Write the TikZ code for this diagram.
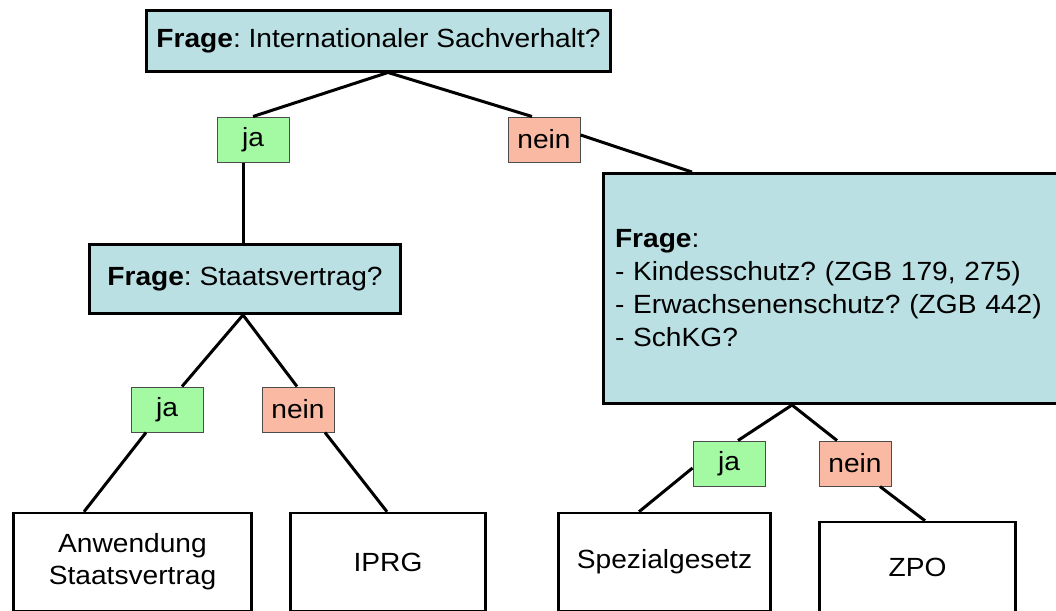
\documentclass[tikz,border=0pt]{standalone}
\usepackage{fontspec}
\setmainfont{Liberation Sans}[FakeStretch=1.07]
\frenchspacing
\definecolor{frageblau}{RGB}{186,224,228}
\definecolor{jagruen}{RGB}{163,250,163}
\definecolor{neinrot}{RGB}{250,185,162}
\begin{document}
\begin{tikzpicture}[
    x=1pt, y=-1pt,
    every node/.style={font=\fontsize{26.3}{33}\selectfont, inner sep=0pt},
    frage/.style={draw, fill=frageblau, line width=3pt},
    antwort/.style={draw, line width=2.5pt, align=center},
    jabox/.style={draw=black!70, fill=jagruen, line width=1pt, minimum width=72, minimum height=45},
    neinbox/.style={draw=black!70, fill=neinrot, line width=1pt, minimum width=72, minimum height=45},
    ast/.style={line width=3pt}
    ]
    \useasboundingbox (0,0) rectangle (1056,610);
    % Fragen
    \node[frage, minimum width=464, minimum height=60] (q1) at (378.5,41) {\textbf{Frage}: Internationaler Sachverhalt?};
    \node[frage, minimum width=311, minimum height=69] (q2) at (245,279) {\textbf{Frage}: Staatsvertrag?};
    \node[frage, minimum height=230, text width=432, inner xsep=12, align=left] (q3) at (831,288.5)
      {\textbf{Frage}:\\- Kindesschutz? (ZGB 179, 275)\\- Erwachsenenschutz? (ZGB 442)\\- SchKG?};
    % ja / nein
    \node[jabox] (ja1) at (253,139.5) {ja};
    \node[neinbox] (nein1) at (544,139.5) {nein};
    \node[jabox] (ja2) at (167,409.5) {ja};
    \node[neinbox] (nein2) at (298,409.5) {nein};
    \node[jabox] (ja3) at (729,463.5) {ja};
    \node[neinbox] (nein3) at (855,463.5) {nein};
    % Ergebnisse
    \node[antwort, minimum width=238, minimum height=98, font=\fontsize{26.3}{32}\selectfont] (b1) at (132.5,562) {Anwendung\\Staatsvertrag};
    \node[antwort, minimum width=195, minimum height=98] (b2) at (388,562) {IPRG};
    \node[antwort, minimum width=212, minimum height=98] (b3) at (664.5,562) {Spezialgesetz};
    \node[antwort, minimum width=196, minimum height=91] (b4) at (917.5,567.5) {ZPO};
    % Aeste
    \draw[ast] ([xshift=9.5pt]q1.south) -- (ja1.north);
    \draw[ast] ([xshift=9.5pt]q1.south) -- ([xshift=-12pt]nein1.north);
    \draw[ast] ([yshift=4.5pt]nein1.east) -- ([xshift=-139pt]q3.north);
    \draw[ast] ([xshift=-10pt]ja1.south) -- ([xshift=-2pt]q2.north);
    \draw[ast] ([xshift=-2pt]q2.south) -- ([xshift=15pt]ja2.north);
    \draw[ast] ([xshift=-2pt]q2.south) -- ([xshift=-1pt]nein2.north);
    \draw[ast] ([xshift=-21pt]ja2.south) -- ([xshift=-48.5pt]b1.north);
    \draw[ast] ([xshift=27pt]nein2.south) -- ([xshift=-1pt]b2.north);
    \draw[ast] ([xshift=-39pt]q3.south) -- ([xshift=9pt]ja3.north);
    \draw[ast] ([xshift=-39pt]q3.south) -- ([xshift=-18pt]nein3.north);
    \draw[ast] ([yshift=-4.5pt]ja3.west) -- ([xshift=-25.5pt]b3.north);
    \draw[ast] ([xshift=25pt]nein3.south) -- ([xshift=7.5pt]b4.north);
\end{tikzpicture}
\end{document}
